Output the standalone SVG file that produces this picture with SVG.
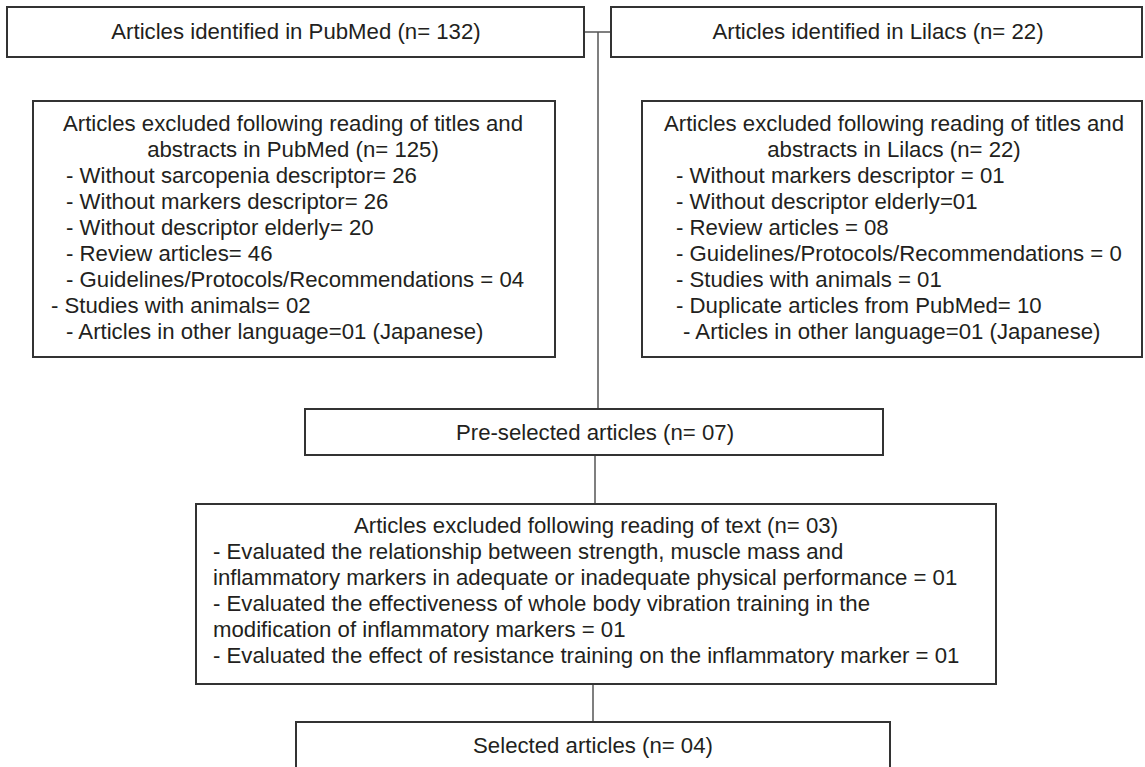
<svg xmlns="http://www.w3.org/2000/svg" width="1145" height="767" viewBox="0 0 1145 767">
<style>
.box{fill:#fff;stroke:#333;stroke-width:2}
.t{font-family:"Liberation Sans",Arial,sans-serif;font-size:22.2px;fill:#231f20}
.c{text-anchor:middle}
.ln{stroke:#555;stroke-width:1.5;fill:none}
</style>
<rect width="1145" height="767" fill="#fff"/>
<g id="connectors">
<line class="ln" x1="584" y1="32" x2="611" y2="32"/>
<line class="ln" x1="598" y1="32" x2="598" y2="409"/>
<line class="ln" x1="595" y1="455" x2="595" y2="504"/>
<line class="ln" x1="593" y1="684" x2="593" y2="722"/>
</g>
<g id="pubmed">
<rect class="box" x="7" y="7" width="577" height="50"/>
<text class="t c" x="296" y="39">Articles identified in PubMed (n= 132)</text>
</g>
<g id="lilacs">
<rect class="box" x="611" y="7" width="531" height="50"/>
<text class="t c" x="878" y="39">Articles identified in Lilacs (n= 22)</text>
</g>
<g id="excluded-pubmed">
<rect class="box" x="33" y="101" width="522" height="256"/>
<text class="t c" x="293" y="131">Articles excluded following reading of titles and</text>
<text class="t c" x="293" y="157">abstracts in PubMed (n= 125)</text>
<text class="t" x="66" y="183">- Without sarcopenia descriptor= 26</text>
<text class="t" x="66" y="209">- Without markers descriptor= 26</text>
<text class="t" x="66" y="235">- Without descriptor elderly= 20</text>
<text class="t" x="66" y="261">- Review articles= 46</text>
<text class="t" x="66" y="287">- Guidelines/Protocols/Recommendations = 04</text>
<text class="t" x="51" y="313">- Studies with animals= 02</text>
<text class="t" x="66" y="339">- Articles in other language=01 (Japanese)</text>
</g>
<g id="excluded-lilacs">
<rect class="box" x="642" y="101" width="500" height="256"/>
<text class="t c" x="894" y="131">Articles excluded following reading of titles and</text>
<text class="t c" x="894" y="157">abstracts in Lilacs (n= 22)</text>
<text class="t" x="676" y="183">- Without markers descriptor = 01</text>
<text class="t" x="676" y="209">- Without descriptor elderly=01</text>
<text class="t" x="676" y="235">- Review articles = 08</text>
<text class="t" x="676" y="261">- Guidelines/Protocols/Recommendations = 0</text>
<text class="t" x="676" y="287">- Studies with animals = 01</text>
<text class="t" x="676" y="313">- Duplicate articles from PubMed= 10</text>
<text class="t" x="683" y="339">- Articles in other language=01 (Japanese)</text>
</g>
<g id="preselected">
<rect class="box" x="305" y="409" width="578" height="46"/>
<text class="t c" x="595" y="440">Pre-selected articles (n= 07)</text>
</g>
<g id="excluded-text">
<rect class="box" x="196" y="504" width="800" height="180"/>
<text class="t c" x="596" y="533">Articles excluded following reading of text (n= 03)</text>
<text class="t" x="213" y="559">- Evaluated the relationship between strength, muscle mass and</text>
<text class="t" x="213" y="585">inflammatory markers in adequate or inadequate physical performance = 01</text>
<text class="t" x="213" y="611">- Evaluated the effectiveness of whole body vibration training in the</text>
<text class="t" x="213" y="637">modification of inflammatory markers = 01</text>
<text class="t" x="213" y="663">- Evaluated the effect of resistance training on the inflammatory marker = 01</text>
</g>
<g id="selected">
<rect class="box" x="296" y="722" width="594" height="60"/>
<text class="t c" x="593" y="753">Selected articles (n= 04)</text>
</g>
</svg>
